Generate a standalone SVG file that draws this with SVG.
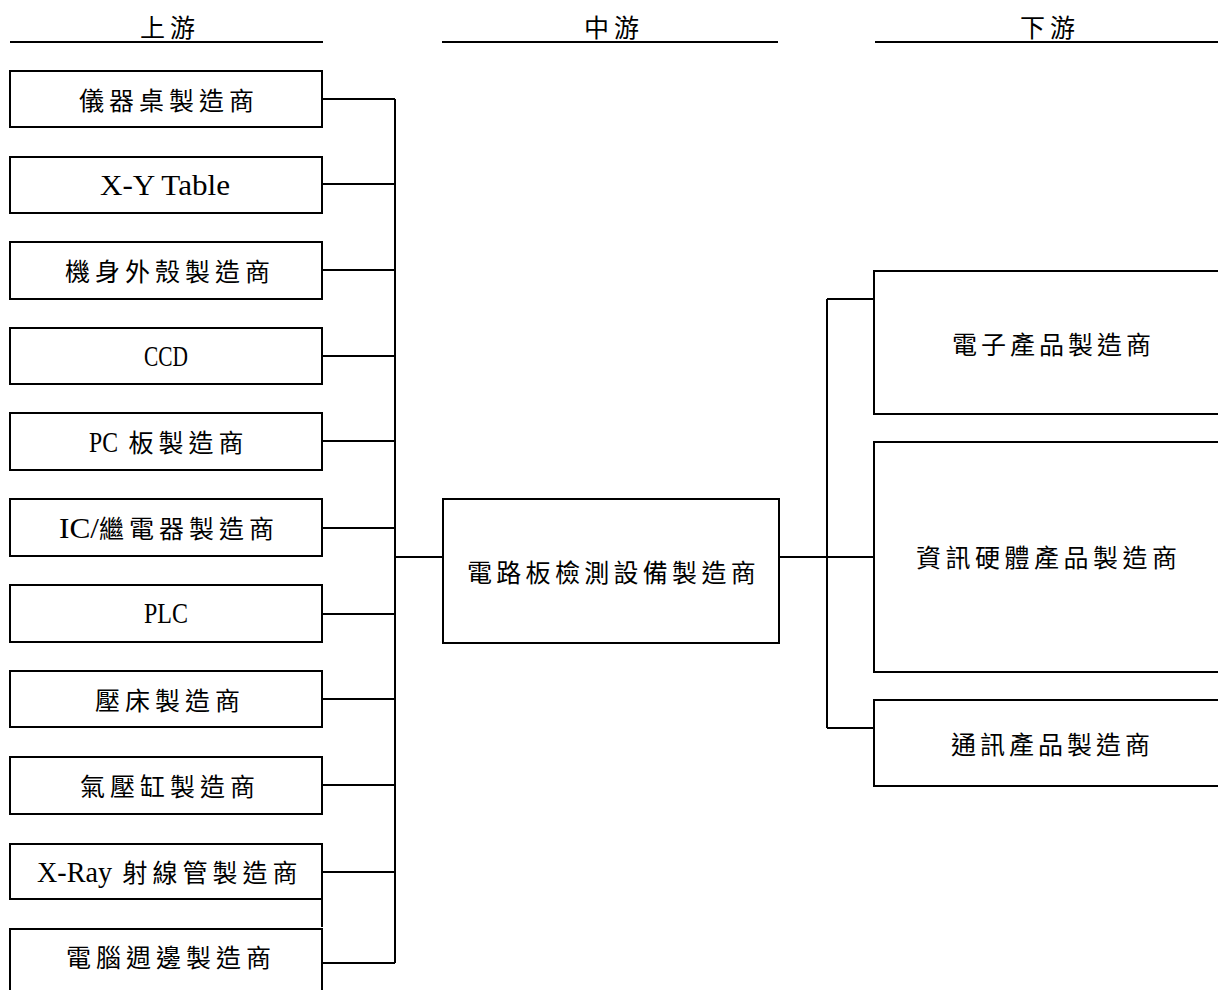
<svg xmlns="http://www.w3.org/2000/svg" width="1218" height="990" viewBox="0 0 1218 990">
<style>
.box{fill:#fff;stroke:#000;stroke-width:2}
.ln{stroke:#000;stroke-width:2;fill:none}
.cj{font-family:"Noto Sans CJK TC","Noto Sans CJK SC",sans-serif;font-size:25px;letter-spacing:5px;fill:#000}
.la{font-family:"Liberation Serif",serif;font-size:30px;letter-spacing:0px;fill:#000}
</style>
<rect width="1218" height="990" fill="#fff"/>
<g id="headers">
  <line class="ln" x1="10" y1="42" x2="323" y2="42"/>
  <line class="ln" x1="442" y1="42" x2="778" y2="42"/>
  <line class="ln" x1="875" y1="42" x2="1218" y2="42"/>
  <text class="cj" x="140" y="37">上游</text>
  <text class="cj" x="584" y="37">中游</text>
  <text class="cj" x="1020" y="37">下游</text>
</g>
<g id="connectors">
  <path class="ln" d="M395 99V963 M322 99H395 M322 184H395 M322 270H395 M322 356H395 M322 441H395 M322 528H395 M322 614H395 M322 699H395 M322 785H395 M322 872H395 M322 963H395 M395 557H443 M322 899V927"/>
  <path class="ln" d="M779 557H827 M827 299V728 M827 299H874 M827 557H874 M827 728H874"/>
</g>
<g id="up1"><rect class="box" x="10" y="71" width="312" height="56"/><text class="cj" x="79" y="110">儀器桌製造商</text></g>
<g id="up2"><rect class="box" x="10" y="157" width="312" height="56"/><text class="la" x="100" y="195" textLength="130" lengthAdjust="spacingAndGlyphs">X-Y Table</text></g>
<g id="up3"><rect class="box" x="10" y="242" width="312" height="57"/><text class="cj" x="65" y="281">機身外殼製造商</text></g>
<g id="up4"><rect class="box" x="10" y="328" width="312" height="56"/><text class="la" x="144" y="366" textLength="44" lengthAdjust="spacingAndGlyphs">CCD</text></g>
<g id="up5"><rect class="box" x="10" y="413" width="312" height="57"/><text class="cj" x="89" y="452"><tspan class="la" textLength="29" lengthAdjust="spacingAndGlyphs">PC</tspan><tspan> 板製造商</tspan></text></g>
<g id="up6"><rect class="box" x="10" y="499" width="312" height="57"/><text class="cj" x="59" y="538"><tspan class="la" textLength="40" lengthAdjust="spacingAndGlyphs">IC/</tspan><tspan>繼電器製造商</tspan></text></g>
<g id="up7"><rect class="box" x="10" y="585" width="312" height="57"/><text class="la" x="144" y="623" textLength="44" lengthAdjust="spacingAndGlyphs">PLC</text></g>
<g id="up8"><rect class="box" x="10" y="671" width="312" height="56"/><text class="cj" x="95" y="710">壓床製造商</text></g>
<g id="up9"><rect class="box" x="10" y="757" width="312" height="57"/><text class="cj" x="80" y="796">氣壓缸製造商</text></g>
<g id="up10"><rect class="box" x="10" y="844" width="312" height="55"/><text class="cj" x="37" y="882"><tspan class="la" textLength="75" lengthAdjust="spacingAndGlyphs">X-Ray</tspan><tspan> 射線管製造商</tspan></text></g>
<g id="up11"><rect class="box" x="10" y="929" width="312" height="80"/><text class="cj" x="66" y="967">電腦週邊製造商</text></g>
<g id="mid"><rect class="box" x="443" y="499" width="336" height="144"/><text class="cj" x="467" y="582" style="letter-spacing:4.3px">電路板檢測設備製造商</text></g>
<g id="down1"><rect class="box" x="874" y="271" width="360" height="143"/><text class="cj" x="952" y="354" style="letter-spacing:4px">電子產品製造商</text></g>
<g id="down2"><rect class="box" x="874" y="442" width="360" height="230"/><text class="cj" x="916" y="567" style="letter-spacing:4.5px">資訊硬體產品製造商</text></g>
<g id="down3"><rect class="box" x="874" y="700" width="360" height="86"/><text class="cj" x="951" y="754" style="letter-spacing:4px">通訊產品製造商</text></g>
</svg>
